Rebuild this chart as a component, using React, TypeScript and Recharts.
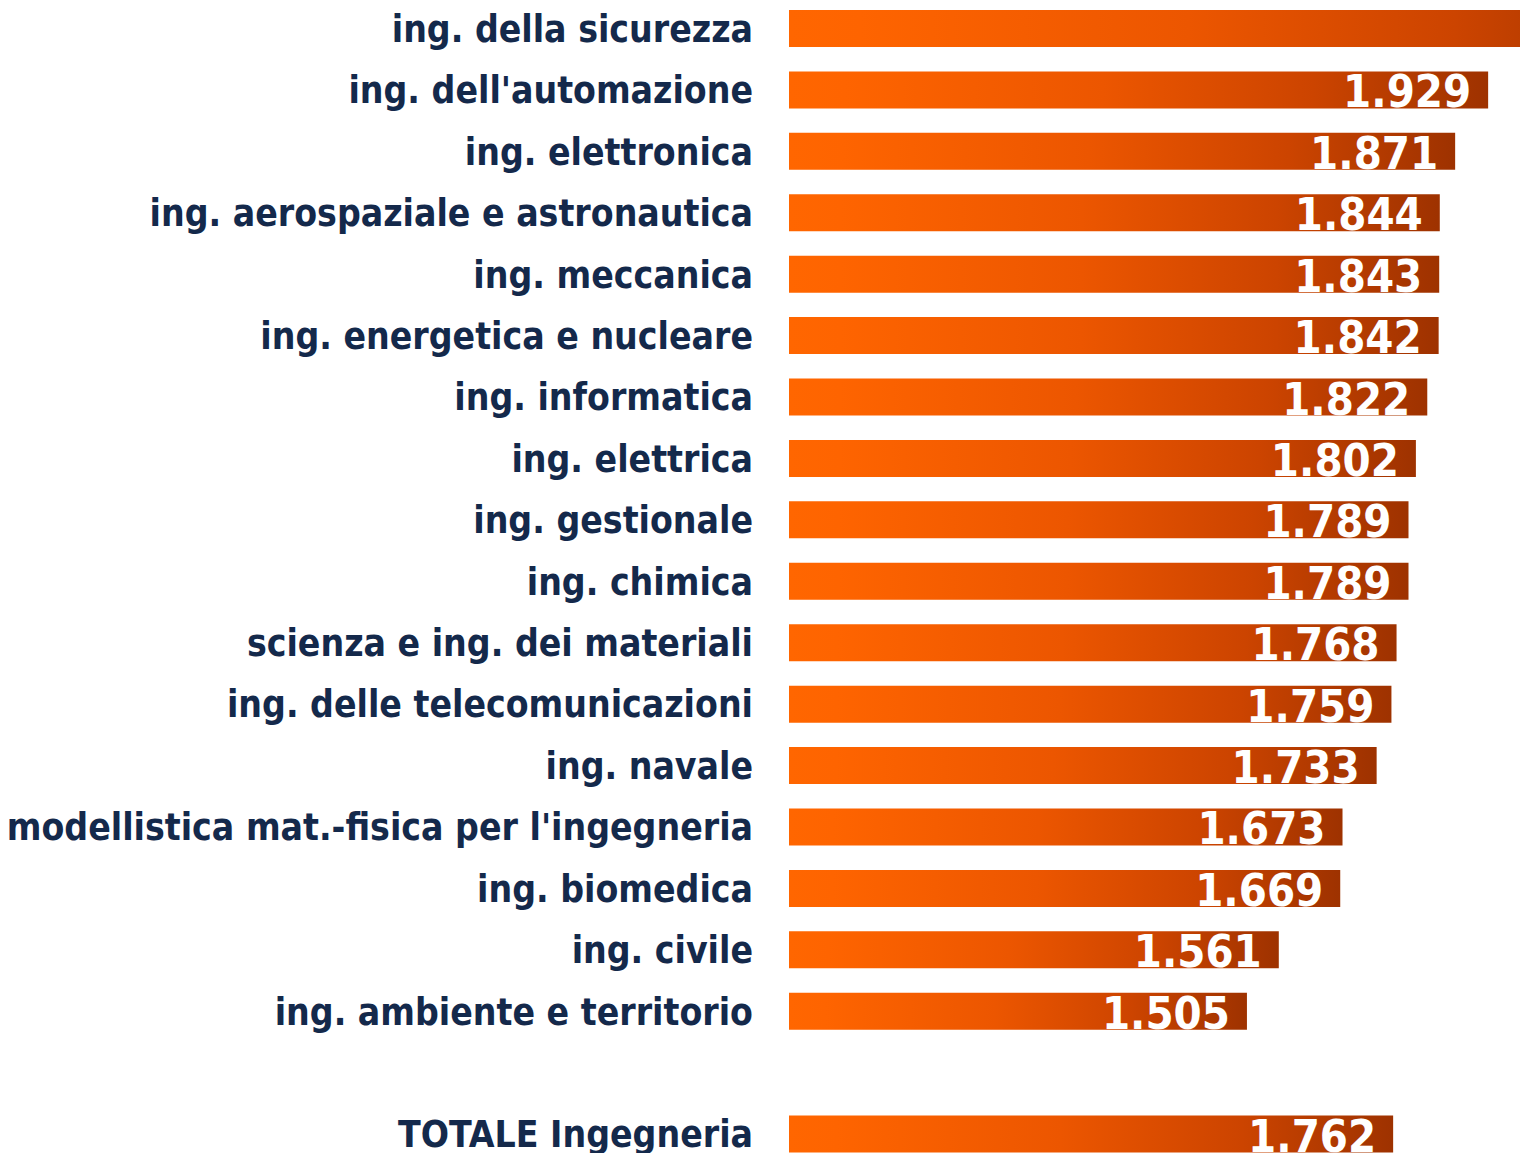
import React from "react";
import { BarChart, Bar, XAxis, YAxis, LabelList } from "recharts";

const categories = [
  "ing. della sicurezza",
  "ing. dell'automazione",
  "ing. elettronica",
  "ing. aerospaziale e astronautica",
  "ing. meccanica",
  "ing. energetica e nucleare",
  "ing. informatica",
  "ing. elettrica",
  "ing. gestionale",
  "ing. chimica",
  "scienza e ing. dei materiali",
  "ing. delle telecomunicazioni",
  "ing. navale",
  "modellistica mat.-fisica per l'ingegneria",
  "ing. biomedica",
  "ing. civile",
  "ing. ambiente e territorio",
  "",
  "TOTALE Ingegneria",
];

const values: (number | null)[] = [
  2260, 1929, 1871, 1844, 1843, 1842, 1822, 1802, 1789, 1789, 1768, 1759, 1733,
  1673, 1669, 1561, 1505, null, 1762,
];

const xDomain = [700, 1985];

const data = categories.map((name, i) => ({ name, value: values[i] }));

const fmt = (v: number) => {
  const s = String(Math.round(v));
  return s.replace(/\B(?=(\d{3})+(?!\d))/g, ".");
};

const LABEL_FONT = "'DejaVu Sans Condensed', 'DejaVu Sans', sans-serif";

const Tick = (props: any) => {
  const { x, y, payload } = props;
  return (
    <text
      x={x}
      y={y}
      dy="0.355em"
      textAnchor="end"
      fill="#14294b"
      fontSize={37}
      fontWeight="bold"
      fontFamily={LABEL_FONT}
    >
      {payload.value}
    </text>
  );
};

const ValueLabel = (props: any) => {
  const { x, y, width, height, value, index } = props;
  if (value == null || value > xDomain[1]) return null;
  const id = `clip-lbl-${index}`;
  return (
    <g>
      <defs>
        <clipPath id={id}>
          <rect x={x} y={y} width={width} height={height} />
        </clipPath>
      </defs>
      <text
        x={x + width - 17}
        y={y + height - 1}
        textAnchor="end"
        fill="#ffffff"
        fontSize={45}
        fontWeight="bold"
        fontFamily={LABEL_FONT}
        clipPath={`url(#${id})`}
      >
        {fmt(value)}
      </text>
    </g>
  );
};

export default function App() {
  return (
    <div
      style={{
        position: "absolute",
        left: 0,
        top: 0,
        width: 1520,
        height: 1153,
        overflow: "hidden",
        background: "#ffffff",
      }}
    >
      <div style={{ marginTop: -2 }}>
        <BarChart
          width={1520}
          height={1167}
          data={data}
          layout="vertical"
          margin={{ top: 0, right: 0, bottom: 0, left: 0 }}
        >
          <defs>
            <linearGradient id="barGrad" x1="0" y1="0" x2="1" y2="0">
              <stop offset="0" stopColor="#ff6600" />
              <stop offset="0.08" stopColor="#fe6400" />
              <stop offset="0.45" stopColor="#ec5600" />
              <stop offset="0.75" stopColor="#cc4400" />
              <stop offset="1" stopColor="#9e3200" />
            </linearGradient>
          </defs>
          <XAxis
            type="number"
            hide
            domain={xDomain}
            allowDataOverflow
          />
          <YAxis
            type="category"
            dataKey="name"
            width={789}
            axisLine={false}
            tickLine={false}
            tickSize={0}
            tickMargin={36}
            interval={0}
            tick={<Tick />}
          />
          <Bar
            dataKey="value"
            fill="url(#barGrad)"
            barSize={37}
            isAnimationActive={false}
          >
            <LabelList dataKey="value" content={<ValueLabel />} />
          </Bar>
        </BarChart>
      </div>
    </div>
  );
}
